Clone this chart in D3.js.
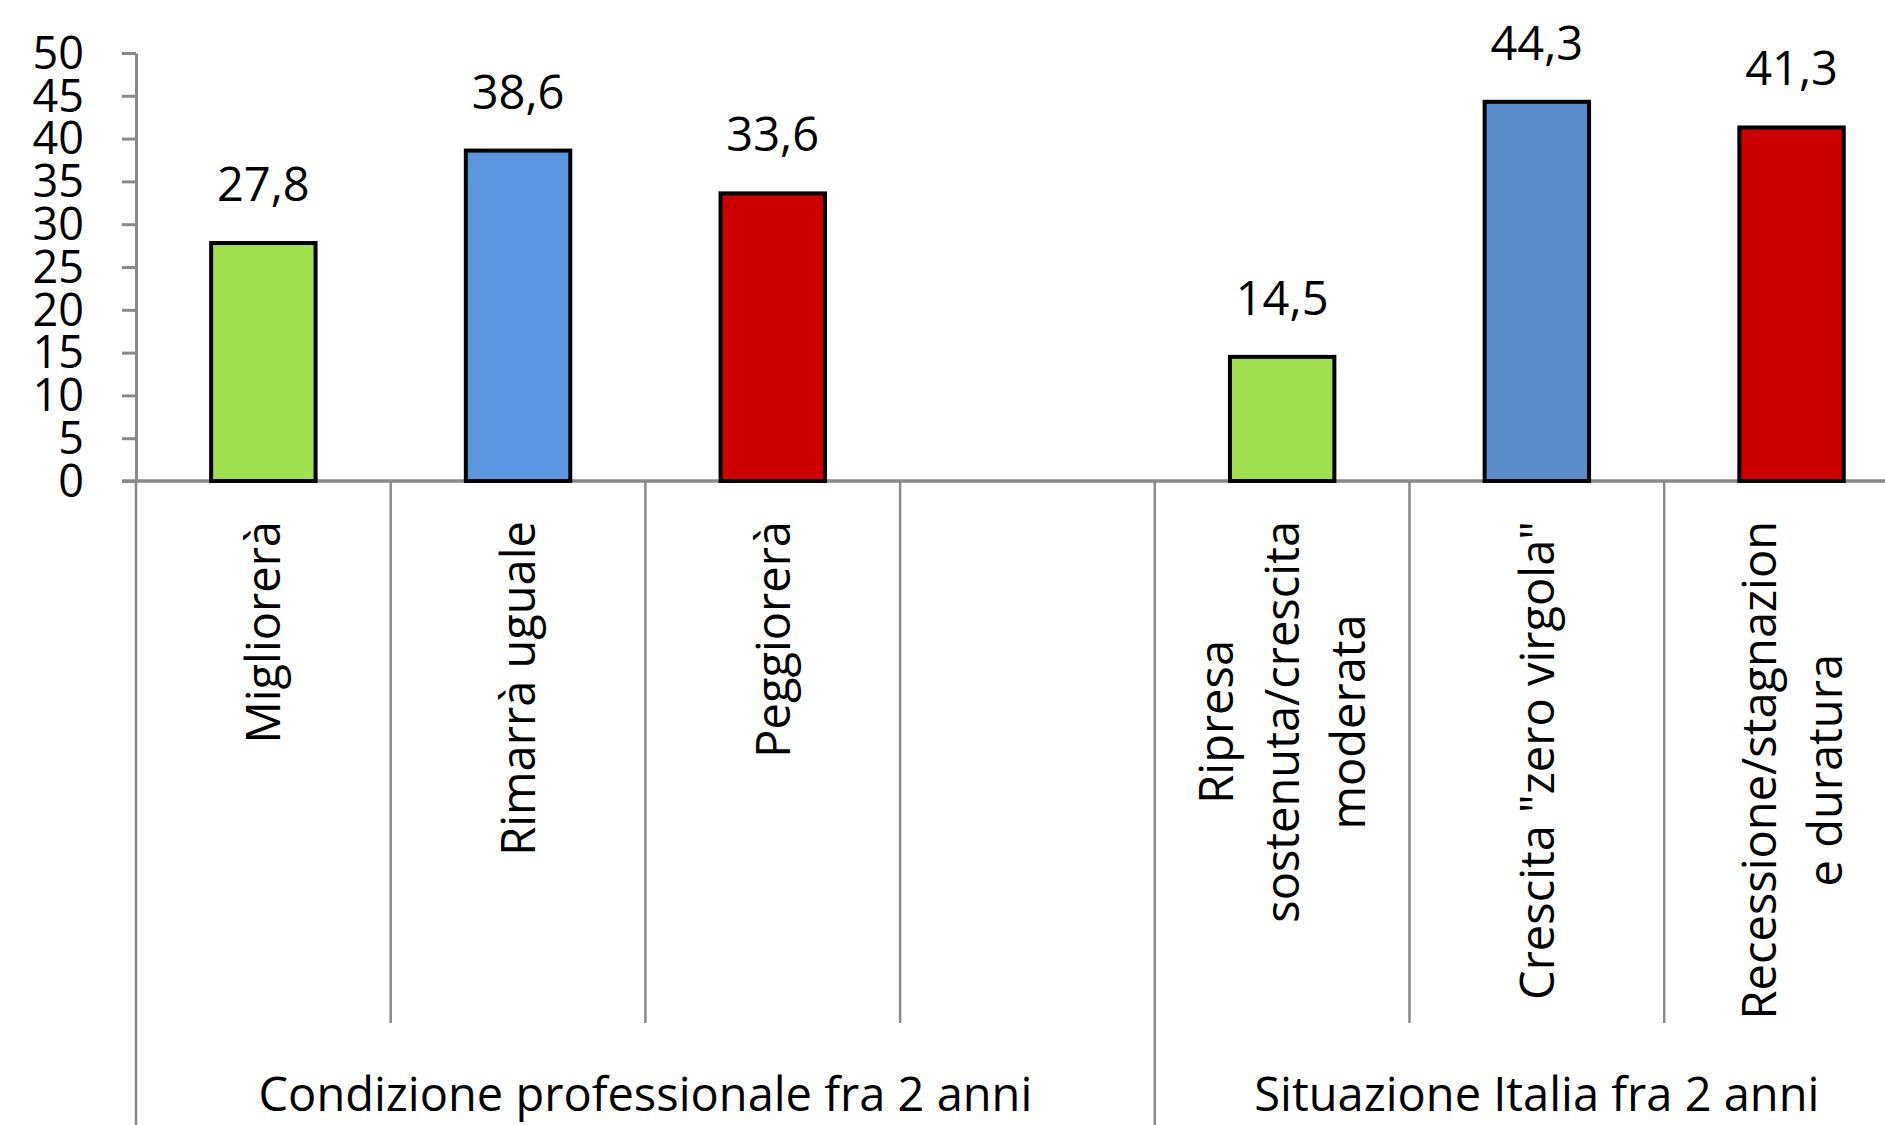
<!DOCTYPE html>
<html>
<head>
<meta charset="utf-8">
<script src="https://cdn.jsdelivr.net/npm/d3@7"></script>
<style>
  html, body { margin: 0; padding: 0; background: #fff; }
  text { font-family: "Open Sans", sans-serif; fill: #000; }
</style>
</head>
<body>
<div id="chart"></div>
<script>
// categories (label lines as wrapped in the picture) and values
var categories = ["Migliorerà", "Rimarrà uguale", "Peggiorerà", "", "Ripresa sostenuta/crescita moderata", "Crescita \"zero virgola\"", "Recessione/stagnazione e duratura"];
var labelLines = [
  ["Migliorerà"],
  ["Rimarrà uguale"],
  ["Peggiorerà"],
  [],
  ["Ripresa", "sostenuta/crescita", "moderata"],
  ["Crescita \"zero virgola\""],
  ["Recessione/stagnazion", "e duratura"]
];
var values = [27.8, 38.6, 33.6, null, 14.5, 44.3, 41.3];
var barColors = ["#9ee050", "#5b96e0", "#cc0000", null, "#9ee050", "#5a8bcb", "#cc0000"];
var valueLabels = ["27,8", "38,6", "33,6", "", "14,5", "44,3", "41,3"];

// outer grouping of the category axis
var groupNames = ["Condizione professionale fra 2 anni", "Situazione Italia fra 2 anni"];
var groupFirst = [0, 4];
var groupLast = [3, 6];

var yTicks = [0, 5, 10, 15, 20, 25, 30, 35, 40, 45, 50];

var width = 1885;
var height = 1125;
var axisColor = "#898989";

var svg = d3.select("#chart")
  .append("svg")
  .attr("width", width)
  .attr("height", height);

// slots continue past the right edge, as in the picture
var x = d3.scaleBand()
  .domain(d3.range(categories.length))
  .range([136, 136 + 254.7 * categories.length]);

var y = d3.scaleLinear()
  .domain([0, 50])
  .range([481, 53]);

var barW = x.bandwidth() * 0.41;

// y axis
var yAxis = d3.axisLeft(y)
  .tickValues(yTicks)
  .tickSize(14)
  .tickSizeOuter(0)
  .tickPadding(38);

var gy = svg.append("g")
  .attr("transform", "translate(" + x.range()[0] + ",0)")
  .call(yAxis);
gy.select(".domain").attr("stroke", axisColor).attr("stroke-width", 3);
gy.selectAll(".tick line").attr("stroke", axisColor).attr("stroke-width", 3);
gy.selectAll(".tick text")
  .style("font-family", "'Open Sans', sans-serif")
  .attr("font-size", 45)
  .attr("fill", "#000")
  .attr("dy", "0.34em");

// vertical separators of the category axis
var bounds = d3.range(categories.length + 1).map(i => i * x.step() + x.range()[0]);
var groupEdges = [x(groupFirst[0])].concat(groupLast.map(i => x(i) + x.step()));

svg.selectAll("line.sep")
  .data(bounds)
  .enter()
  .append("line")
  .attr("class", "sep")
  .attr("x1", d => d)
  .attr("x2", d => d)
  .attr("y1", y(0))
  .attr("y2", d => groupEdges.some(e => Math.abs(e - d) < 1) ? height : 1023)
  .attr("stroke", axisColor)
  .attr("stroke-width", 2.5);

// horizontal axis line
svg.append("line")
  .attr("x1", x.range()[0] - 14)
  .attr("x2", width)
  .attr("y1", y(0))
  .attr("y2", y(0))
  .attr("stroke", axisColor)
  .attr("stroke-width", 3.5);

// bars
var idx = d3.range(categories.length).filter(i => values[i] != null);

svg.selectAll("rect.bar")
  .data(idx)
  .enter()
  .append("rect")
  .attr("class", "bar")
  .attr("x", i => x(i) + (x.bandwidth() - barW) / 2)
  .attr("y", i => y(values[i]))
  .attr("width", barW)
  .attr("height", i => y(0) - y(values[i]))
  .attr("fill", i => barColors[i])
  .attr("stroke", "#000")
  .attr("stroke-width", 4);

// value labels
svg.selectAll("text.val")
  .data(idx)
  .enter()
  .append("text")
  .attr("class", "val")
  .attr("x", i => x(i) + x.bandwidth() / 2)
  .attr("y", i => y(values[i]) - 42)
  .attr("text-anchor", "middle")
  .attr("font-size", 47)
  .text(i => valueLabels[i]);

// rotated category labels
var lineGap = 66;
var catTop = 521;
labelLines.forEach((lines, i) => {
  if (!lines.length) return;
  var cx = x(i) + x.bandwidth() / 2;
  var g = svg.append("g");
  var n = lines.length;
  var texts = lines.map((t, j) => g.append("text")
    .attr("font-size", 47)
    .attr("text-anchor", "middle")
    .text(t));
  var maxLen = d3.max(texts, t => t.node().getComputedTextLength());
  texts.forEach((t, j) => {
    var bx = cx + 17 + (j - (n - 1) / 2) * lineGap;
    t.attr("transform", "translate(" + bx + "," + (catTop + maxLen / 2) + ") rotate(-90)");
  });
});

// group labels
groupNames.forEach((name, k) => {
  var cx = (x(groupFirst[k]) + x(groupLast[k]) + x.step()) / 2;
  svg.append("text")
    .attr("x", cx)
    .attr("y", 1111)
    .attr("text-anchor", "middle")
    .attr("font-size", 47)
    .text(name);
});
</script>
</body>
</html>
